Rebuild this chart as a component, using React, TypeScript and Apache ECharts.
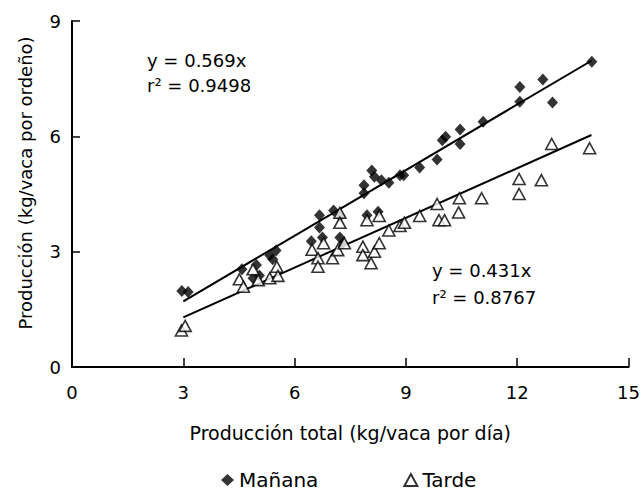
import React, { useEffect, useRef } from "react";
import * as echarts from "echarts";

// Mañana (diamonds): [total kg/day, kg per milking]
const mananaPoints: number[][] = [
  [2.96, 1.98], [3.13, 1.95],
  [4.58, 2.54], [4.97, 2.65], [4.88, 2.31], [5.05, 2.38], [5.33, 2.91], [5.41, 2.8], [5.5, 3.03],
  [6.45, 3.27], [6.67, 3.95], [6.67, 3.63], [6.75, 3.37], [7.05, 4.07], [7.22, 3.93], [7.22, 3.37], [7.3, 3.22],
  [7.87, 4.73], [7.87, 4.52], [7.95, 3.95], [8.08, 5.11], [8.15, 4.95], [8.25, 4.04], [8.34, 4.86], [8.54, 4.79],
  [8.84, 4.99], [8.94, 4.99], [9.37, 5.19], [9.84, 5.4], [9.98, 5.9], [10.07, 5.99], [10.46, 6.18], [10.46, 5.8],
  [11.08, 6.38], [12.07, 7.28], [12.07, 6.9], [12.69, 7.48], [12.95, 6.88], [14.01, 7.94],
];

// Tarde (open triangles)
const tardePoints: number[][] = [
  [2.95, 0.95], [3.05, 1.07],
  [4.51, 2.28], [4.62, 2.09], [4.88, 2.54], [5.02, 2.26], [5.33, 2.31], [5.52, 2.61], [5.55, 2.37],
  [6.47, 3.05], [6.63, 2.83], [6.63, 2.61], [6.78, 3.22], [7.02, 2.83], [7.16, 3.04], [7.22, 4.01], [7.22, 3.75], [7.34, 3.22],
  [7.84, 3.13], [7.84, 2.91], [7.95, 3.82], [8.06, 2.7], [8.15, 3.0], [8.28, 3.22], [8.28, 3.93], [8.54, 3.55],
  [8.84, 3.67], [8.96, 3.75], [9.37, 3.93], [9.84, 4.24], [9.89, 3.82], [10.04, 3.82], [10.42, 4.02], [10.44, 4.39],
  [11.04, 4.39], [12.05, 4.89], [12.05, 4.5], [12.65, 4.86], [12.93, 5.8], [13.95, 5.69],
];

// Fitted regressions (through origin) as printed on the chart
const mananaSlope = 0.569;
const tardeSlope = 0.431;
const fitRange = [3, 14];

const seriesNames = ["Mañana", "Tarde"];
const mananaLabels = ["y = 0.569x", "r² = 0.9498"];
const tardeLabels = ["y = 0.431x", "r² = 0.8767"];

const xTitle = "Producción total (kg/vaca por día)";
const yTitle = "Producción (kg/vaca por ordeño)";

const FONT = "DejaVu Sans";

export default function App() {
  const ref = useRef<HTMLDivElement>(null);

  useEffect(() => {
    document.body.style.margin = "0";
    if (!ref.current) return;
    const chart = echarts.init(ref.current, undefined, { renderer: "svg" });
    const fitLine = (slope: number) => fitRange.map((x) => [x, x * slope]);

    chart.setOption({
      animation: false,
      backgroundColor: "#ffffff",
      textStyle: { fontFamily: FONT, color: "#000" },
      grid: { left: 72, right: 4, top: 21, bottom: 126, containLabel: false },
      xAxis: {
        type: "value",
        min: 0,
        max: 15,
        interval: 3,
        name: xTitle,
        nameLocation: "middle",
        nameGap: 56,
        nameTextStyle: { fontFamily: FONT, fontSize: 19, color: "#000" },
        axisLine: { show: true, onZero: false, lineStyle: { color: "#000", width: 2 } },
        axisTick: { show: true, inside: true, length: 9, lineStyle: { color: "#000", width: 1.5 } },
        axisLabel: { fontFamily: FONT, fontSize: 18, color: "#000", margin: 16 },
        splitLine: { show: false },
      },
      yAxis: {
        type: "value",
        min: 0,
        max: 9,
        interval: 3,
        axisLine: { show: true, onZero: false, lineStyle: { color: "#000", width: 2 } },
        axisTick: { show: true, inside: true, length: 8, lineStyle: { color: "#000", width: 1.5 } },
        axisLabel: { fontFamily: FONT, fontSize: 18, color: "#000", margin: 11 },
        splitLine: { show: false },
      },
      legend: {
        data: seriesNames,
        left: 216,
        top: 465,
        itemGap: 85,
        itemWidth: 13,
        itemHeight: 12,
        textStyle: { fontFamily: FONT, fontSize: 20, color: "#000" },
      },
      graphic: [
        {
          type: "text",
          x: 25,
          y: 183,
          rotation: Math.PI / 2,
          style: {
            text: yTitle,
            fontFamily: FONT,
            fontSize: 18,
            fill: "#000",
            textAlign: "center",
            textVerticalAlign: "middle",
          },
        },
        {
          type: "text",
          left: 147,
          top: 48,
          style: { text: mananaLabels.join("\n"), fontFamily: FONT, fontSize: 18, fill: "#000", lineHeight: 25 },
        },
        {
          type: "text",
          left: 432,
          top: 257,
          style: { text: tardeLabels.join("\n"), fontFamily: FONT, fontSize: 18, fill: "#000", lineHeight: 27 },
        },
      ],
      series: [
        {
          name: "Mañana fit",
          type: "line",
          data: fitLine(mananaSlope),
          symbol: "none",
          lineStyle: { color: "#000", width: 2 },
          z: 1,
          silent: true,
        },
        {
          name: "Tarde fit",
          type: "line",
          data: fitLine(tardeSlope),
          symbol: "none",
          lineStyle: { color: "#000", width: 2 },
          z: 1,
          silent: true,
        },
        {
          name: seriesNames[0],
          type: "scatter",
          data: mananaPoints,
          symbol: "diamond",
          symbolSize: [11, 12],
          itemStyle: { color: "#000" },
          z: 3,
        },
        {
          name: seriesNames[1],
          type: "scatter",
          data: tardePoints,
          symbol: "triangle",
          symbolSize: [12, 11],
          itemStyle: { color: "#fff", borderColor: "#000", borderWidth: 1.6 },
          z: 4,
        },
      ],
    });
    return () => chart.dispose();
  }, []);

  return <div ref={ref} style={{ width: 643, height: 493 }} />;
}
